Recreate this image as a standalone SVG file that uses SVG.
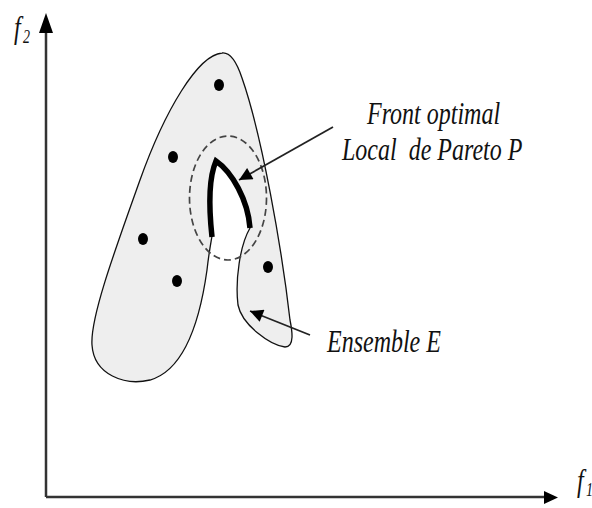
<svg xmlns="http://www.w3.org/2000/svg" width="592" height="508" viewBox="0 0 592 508">
<style>
.lbl{font-family:"Liberation Serif","Times New Roman",serif;font-style:italic;font-size:24px;fill:#111}
.axis{stroke:#333;stroke-width:2.5;fill:none}
.conn{stroke:#222;stroke-width:1.8;fill:none}
.dot{fill:#000}
</style>
<defs>
<marker id="arr" viewBox="0 0 10 10" refX="10" refY="5" markerWidth="16" markerHeight="13" markerUnits="userSpaceOnUse" orient="auto"><path d="M0,0 L10,5 L0,10 Z" fill="#000"/></marker>
</defs>
<rect width="592" height="508" fill="#fff"/>
<g id="axes">
<path class="axis" d="M46,497 V30"/>
<path d="M39,33 L46,13 L53,33 Z" fill="#000"/>
<path class="axis" d="M46,497 H545"/>
<path d="M544,491 L558,497.5 L544,504 Z" fill="#000"/>
<text class="lbl" transform="translate(14,38) scale(1,1.35)">f</text>
<text class="lbl" style="font-size:14px" transform="translate(23,43) scale(1,1.35)">2</text>
<text class="lbl" transform="translate(577,491) scale(1,1.35)">f</text>
<text class="lbl" style="font-size:14px" transform="translate(586,496) scale(1,1.35)">1</text>
</g>
<g id="ensemble">
<path d="M222,53 C198,55 165,110 140,180 C115,250 90,318 92,345 C94,375 125,386 150,380 C185,370 200,320 207,270 C209,252 211,242 212,236 C208,200 210,175 216,161 C232,172 248,200 250,228 C240,245 235,280 238,305 C242,325 270,345 285,347 C295,347 292,330 290,320 C282,250 262,135 242,78 C236,60 230,52 222,53 Z" fill="#eeeeee" stroke="#111" stroke-width="1.3"/>
</g>
<g id="dashed-zone">
<ellipse cx="228" cy="198" rx="38.5" ry="62" fill="none" stroke="#444" stroke-width="1.7" stroke-dasharray="7 4"/>
</g>
<g id="pareto-front">
<path d="M212,237 C208,200 210,175 216,161 C232,172 248,200 250,228" fill="none" stroke="#000" stroke-width="5.5" stroke-linejoin="miter"/>
</g>
<g id="points">
<ellipse class="dot" cx="219" cy="85" rx="5" ry="6"/>
<ellipse class="dot" cx="173" cy="157" rx="5" ry="6"/>
<ellipse class="dot" cx="143" cy="239" rx="5" ry="6"/>
<ellipse class="dot" cx="177" cy="281" rx="5" ry="6"/>
<ellipse class="dot" cx="268" cy="267" rx="5" ry="6"/>
</g>
<g id="connectors">
<path class="conn" d="M333,127 L239,180" marker-end="url(#arr)"/>
<path class="conn" d="M310,335 L250,311" marker-end="url(#arr)"/>
</g>
<g id="label-front">
<text class="lbl" transform="translate(367,124) scale(1,1.35)">Front optimal</text>
<text class="lbl" xml:space="preserve" transform="translate(342,160) scale(1,1.35)">Local  de Pareto P</text>
</g>
<g id="label-ensemble">
<text class="lbl" transform="translate(327,352) scale(1,1.35)">Ensemble E</text>
</g>
</svg>
